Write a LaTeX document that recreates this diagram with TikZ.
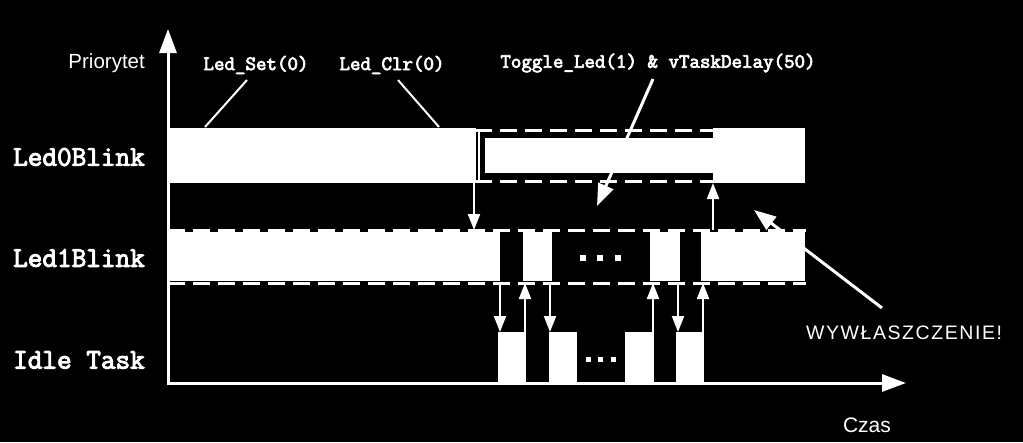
\documentclass[tikz,border=0pt]{standalone}
\usepackage{fontspec}
\setmainfont{Liberation Sans}
\setsansfont{Liberation Sans}
\setmonofont{Latin Modern Mono}[AutoFakeBold=3.5]
\usetikzlibrary{arrows.meta}
\begin{document}
\begin{tikzpicture}[x=1pt,y=-1pt,
  axisline/.style={draw=white,line width=3pt,-{Triangle[width=17pt,length=24pt]}},
  flow/.style={draw=white,line width=2pt,-{Triangle[width=12pt,length=16pt]}},
  leader/.style={draw=white,line width=2pt},
  bigarrow/.style={draw=white,line width=3pt,-{Triangle[width=16pt,length=22pt]}},
  dashedge/.style={draw=white,line width=3pt,dash pattern=on 17pt off 8pt},
  run/.style={fill=white},
  tasklbl/.style={text=white,inner sep=0pt,font=\fontsize{28.4}{30}\selectfont\ttfamily\bfseries,anchor=east},
  codelbl/.style={text=white,inner sep=0pt,font=\fontsize{20.4}{22}\selectfont\ttfamily\bfseries},
  sanslbl/.style={text=white,inner sep=0pt,font=\fontsize{20.5}{24}\selectfont\sffamily},
  dotsq/.style={fill=white}
]
\fill[black] (0,0) rectangle (1023,442);
\useasboundingbox (0,0) rectangle (1023,442);

% labels
\node[sanslbl,anchor=east] (prio) at (145,63) {Priorytet};
\node[tasklbl] (t0) at (145,157) {Led0Blink};
\node[tasklbl] (t1) at (145,258) {Led1Blink};
\node[tasklbl] (t2) at (145,360) {Idle Task};
\node[codelbl] (lset) at (256,65) {Led\_Set(0)};
\node[codelbl] (lclr) at (392,65) {Led\_Clr(0)};
\node[codelbl] (ltog) at (658,63) {Toggle\_Led(1) \& vTaskDelay(50)};
\node[sanslbl,anchor=west,font=\fontsize{19.5}{24}\selectfont\sffamily\addfontfeature{LetterSpace=8}] (wyw) at (806,333) {WYWŁASZCZENIE!};
\node[sanslbl,font=\fontsize{21}{24}\selectfont\sffamily] (czas) at (867,425) {Czas};

% Led0Blink row
\fill[run] (168,128) rectangle (476,183);
\draw[draw=white,line width=2pt] (479,130) -- (479,181);
\fill[run] (485,138) rectangle (713,173);
\draw[dashedge] (475,130) -- (713,130);
\draw[dashedge] (475,181) -- (713,181);
\fill[run] (713,128) rectangle (805,183);

% Led1Blink row
\draw[dashedge] (168,230) -- (806,230);
\draw[dashedge] (168,283) -- (806,283);
\fill[run] (168,232) rectangle (500,281);
\fill[run] (523,232) rectangle (552,281);
\fill[run] (650,232) rectangle (680,281);
\fill[run] (701,232) rectangle (805,281);
\foreach \x in {583,600,618} \fill[dotsq] (\x-3,255) rectangle (\x+3,261);

% Idle row
\fill[run] (498,332) rectangle (526,383);
\fill[run] (549,332) rectangle (577,383);
\fill[run] (625,332) rectangle (653,383);
\fill[run] (676,332) rectangle (704,383);
\foreach \x in {588,600,613} \fill[dotsq] (\x-2.5,356.5) rectangle (\x+2.5,361.5);

% axes
\coordinate (origin) at (168,383);
\coordinate (ytop) at (168,29);
\coordinate (xend) at (906,383);
\draw[axisline] (origin) -- (ytop);
\draw[axisline] ([xshift=-1.5pt]origin) -- (xend);

% switch arrows
\coordinate (a0s) at (474,183); \coordinate (a0e) at (474,230);
\draw[flow] (a0s) -- (a0e);
\coordinate (a1s) at (500,283); \coordinate (a1e) at (500,332);
\draw[flow] (a1s) -- (a1e);
\coordinate (a2s) at (525,383); \coordinate (a2e) at (525,283);
\draw[flow] (a2s) -- (a2e);
\coordinate (a3s) at (550,283); \coordinate (a3e) at (550,332);
\draw[flow] (a3s) -- (a3e);
\coordinate (a4s) at (653,383); \coordinate (a4e) at (653,283);
\draw[flow] (a4s) -- (a4e);
\coordinate (a5s) at (678,283); \coordinate (a5e) at (678,332);
\draw[flow] (a5s) -- (a5e);
\coordinate (a6s) at (703,383); \coordinate (a6e) at (703,283);
\draw[flow] (a6s) -- (a6e);
\coordinate (a7s) at (713,230); \coordinate (a7e) at (713,183);
\draw[flow] (a7s) -- (a7e);

% leaders
\coordinate (setA) at (247,80); \coordinate (setB) at (205,127);
\draw[leader] (setA) -- (setB);
\coordinate (clrA) at (398,80); \coordinate (clrB) at (439,127);
\draw[leader] (clrA) -- (clrB);
\coordinate (togA) at (653,79); \coordinate (togB) at (597,206);
\draw[bigarrow] (togA) -- (togB);
\coordinate (wywA) at (882,308); \coordinate (wywB) at (754,210);
\draw[bigarrow] (wywA) -- (wywB);
\end{tikzpicture}
\end{document}
